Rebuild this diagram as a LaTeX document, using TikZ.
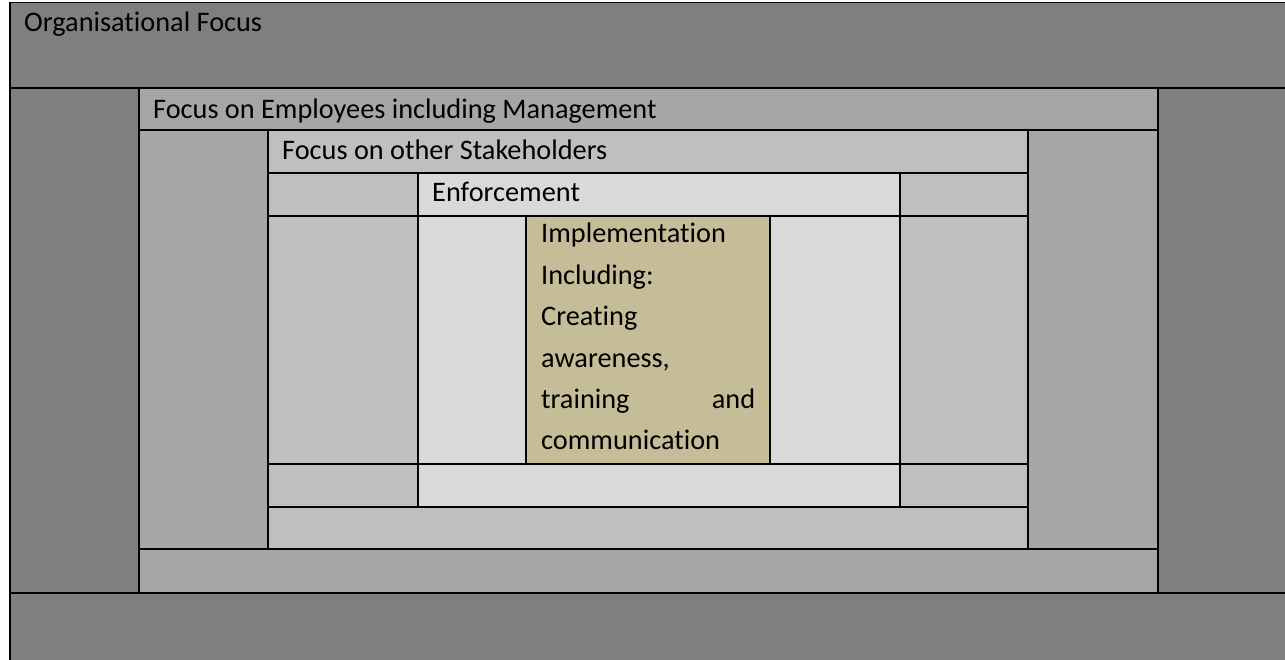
\documentclass[tikz,border=0pt]{standalone}
\usepackage{fontspec}
\setmainfont[Ligatures=NoCommon]{Carlito}
\usepackage{tikz}
\usetikzlibrary{positioning}
\definecolor{outergray}{HTML}{7F7F7F}
\definecolor{staffgray}{HTML}{A6A6A6}
\definecolor{stakegray}{HTML}{BFBFBF}
\definecolor{enforcegray}{HTML}{D9D9D9}
\definecolor{implementtan}{HTML}{C4BD97}
\tikzstyle{gridline} = [line width=1.6pt, draw=black]
\tikzstyle{celltext} = [anchor=base west, inner sep=0pt, font=\fontsize{28.3}{41.4}\selectfont]

\begin{document}
\begin{tikzpicture}[x=1pt, y=-1pt]
    \useasboundingbox (0,0) rectangle (1285,660);
    % Shaded levels
    \fill[outergray] (10,2.5) rectangle (1285,660);
    \fill[staffgray] (139,88) rectangle (1158,593);
    \fill[stakegray] (268,130) rectangle (1028,549);
    \fill[enforcegray] (418,173) rectangle (900,507);
    \fill[implementtan] (526,216) rectangle (770,464);
    
    % Table lines
    \draw[gridline] (10,2.5) -- (1285,2.5);
    \draw[gridline] (10,88) -- (1285,88);
    \draw[gridline] (10,593) -- (1285,593);
    \draw[gridline] (10,2.5) -- (10,660);
    \draw[gridline] (139,130) -- (1158,130);
    \draw[gridline] (139,549) -- (1158,549);
    \draw[gridline] (139,88) -- (139,593);
    \draw[gridline] (1158,88) -- (1158,593);
    \foreach \y in {173,216,464,507}
        \draw[gridline] (268,\y) -- (1028,\y);
    \draw[gridline] (268,130) -- (268,549);
    \draw[gridline] (1028,130) -- (1028,549);
    \draw[gridline] (418,173) -- (418,507);
    \draw[gridline] (900,173) -- (900,507);
    \draw[gridline] (526,216) -- (526,464);
    \draw[gridline] (770,216) -- (770,464);
    
    % Labels
    \node[celltext] (orgfocus) at (24,32) {Organisational Focus};
    \node[celltext] (empfocus) at (153,119) {Focus on Employees including Management};
    \node[celltext] (stakefocus) at (282,160) {Focus on other Stakeholders};
    \node[celltext] (enforce) at (432,202) {Enforcement};
    \node[celltext, text width=214pt, align=left] (implement) at (541,243)
        {Implementation\\Including:\\Creating\\awareness,\\training\hfill and\\communication};
    
\end{tikzpicture}
\end{document}
